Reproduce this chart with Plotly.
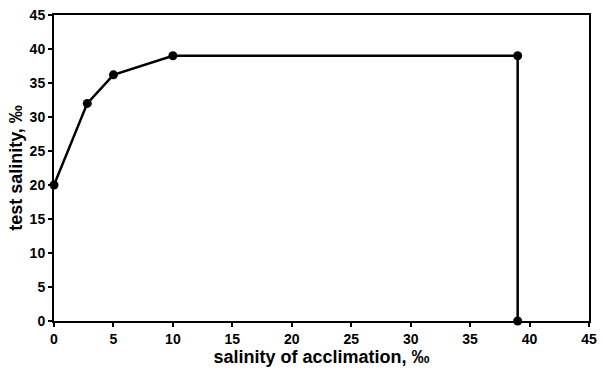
import plotly.graph_objects as go

acclimation = [0, 2.8, 5, 10, 39, 39]
test_salinity = [20, 32, 36.2, 39, 39, 0]
x_ticks = [0, 5, 10, 15, 20, 25, 30, 35, 40, 45]
y_ticks = [0, 5, 10, 15, 20, 25, 30, 35, 40, 45]

fig = go.Figure()
fig.add_trace(go.Scatter(
    x=acclimation, y=test_salinity, mode="lines+markers",
    line=dict(color="black", width=2.5),
    marker=dict(color="black", size=9),
    cliponaxis=False, showlegend=False,
))

axis_font = dict(family="Liberation Sans Narrow, Liberation Sans, Arial", size=14, color="black")
title_font = dict(family="Liberation Sans, Arial", size=18, color="black")
fig.update_layout(
    width=603, height=369,
    margin=dict(l=54, r=6, t=15, b=48),
    paper_bgcolor="white", plot_bgcolor="white",
    xaxis=dict(
        range=[0, 45], tickvals=x_ticks, ticktext=[f"<b>{v}</b>" for v in x_ticks],
        showgrid=False, zeroline=False, showline=True, linecolor="black", linewidth=2,
        mirror=True, ticks="outside", ticklen=4, tickwidth=2, tickcolor="black",
        tickfont=axis_font,
        title=dict(text="<b>salinity of acclimation, ‰</b>", standoff=2, font=title_font),
    ),
    yaxis=dict(
        range=[0, 45], tickvals=y_ticks, ticktext=[f"<b>{v}</b>" for v in y_ticks],
        showgrid=False, zeroline=False, showline=True, linecolor="black", linewidth=2,
        mirror=True, ticks="outside", ticklen=4, tickwidth=2, tickcolor="black",
        tickfont=axis_font,
        title=dict(text="<b>test salinity, ‰</b>", standoff=2, font=title_font),
    ),
)
fig.write_html("out.html")
